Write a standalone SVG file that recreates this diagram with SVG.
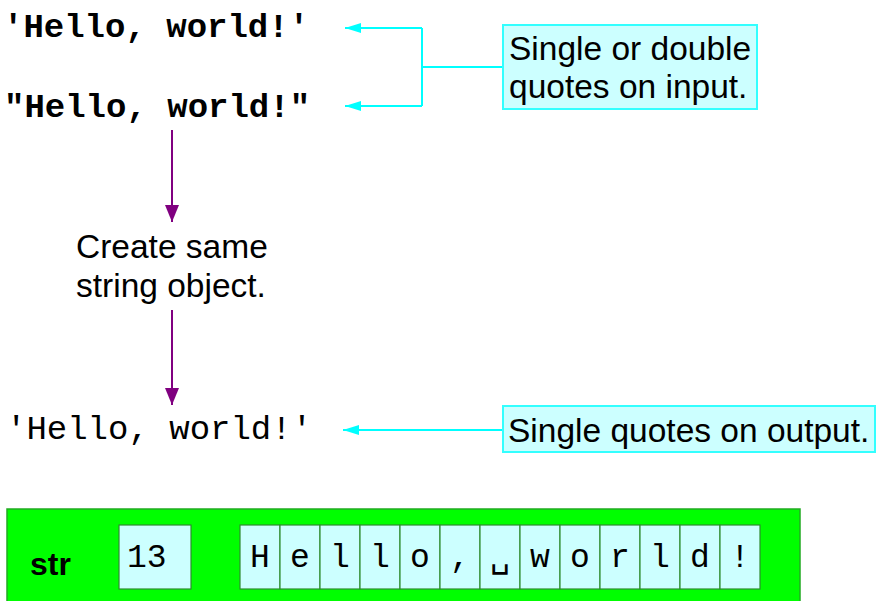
<svg xmlns="http://www.w3.org/2000/svg" width="877" height="601" viewBox="0 0 877 601">
<style>
.mono{font-family:"Liberation Mono","DejaVu Sans Mono",monospace;font-size:34px;fill:#000}
.monob{font-family:"Liberation Mono","DejaVu Sans Mono",monospace;font-size:34px;font-weight:bold;fill:#000}
.sans{font-family:"Liberation Sans",Arial,sans-serif;font-size:33.5px;fill:#000}
.note{fill:#ccffff;stroke:#33ffff;stroke-width:2}
.cell{fill:#ccffff;stroke:#2e8b2e;stroke-width:1.2}
.ctext{font-family:"Liberation Mono","DejaVu Sans Mono",monospace;font-size:33px;fill:#000;text-anchor:middle}
.cy{stroke:#00ffff;stroke-width:2;fill:none}
.pu{stroke:#800080;stroke-width:2;fill:none}
</style>
<defs>
<marker id="ac" markerUnits="userSpaceOnUse" markerWidth="18" markerHeight="12" refX="16" refY="6" orient="auto">
<path d="M0,1 L16,6 L0,11 Z" fill="#00ffff"/>
</marker>
<marker id="ap" markerUnits="userSpaceOnUse" markerWidth="18" markerHeight="16" refX="17" refY="8" orient="auto">
<path d="M0,1 L17,8 L0,15 Z" fill="#800080"/>
</marker>
</defs>
<g id="connectors">
<path class="cy" d="M503,67 H422 M422,28 V106 M422,28 H345" marker-end="url(#ac)"/>
<path class="cy" d="M422,106 H345" marker-end="url(#ac)"/>
<path class="cy" d="M503,430 H343" marker-end="url(#ac)"/>
<path class="pu" d="M172,130 V222" marker-end="url(#ap)"/>
<path class="pu" d="M172,310 V405" marker-end="url(#ap)"/>
</g>
<g id="input1"><text class="monob" x="3" y="37">'Hello, world!'</text></g>
<g id="input2"><text class="monob" x="4" y="117">"Hello, world!"</text></g>
<g id="note-input">
<rect class="note" x="503" y="25" width="254" height="84"/>
<text class="sans" x="509" y="60">Single or double</text>
<text class="sans" x="509" y="98">quotes on input.</text>
</g>
<g id="create">
<text class="sans" x="76" y="258">Create same</text>
<text class="sans" x="76" y="297">string object.</text>
</g>
<g id="output"><text class="mono" x="6" y="439">'Hello, world!'</text></g>
<g id="note-output">
<rect class="note" x="503" y="406" width="372" height="46"/>
<text class="sans" x="508" y="442">Single quotes on output.</text>
</g>
<g id="strobj">
<rect x="7" y="509" width="793" height="100" fill="#00ff00" stroke="#22aa22" stroke-width="1.5"/>
<text x="30" y="575" style="font-family:'Liberation Sans',Arial,sans-serif;font-size:32px;font-weight:bold;fill:#000">str</text>
<rect class="cell" x="119" y="525" width="72" height="64"/>
<text class="mono" x="127" y="567" style="font-size:33px">13</text>
<rect class="cell" x="240" y="525" width="40" height="64"/><text class="ctext" x="260" y="567">H</text>
<rect class="cell" x="280" y="525" width="40" height="64"/><text class="ctext" x="300" y="567">e</text>
<rect class="cell" x="320" y="525" width="40" height="64"/><text class="ctext" x="340" y="567">l</text>
<rect class="cell" x="360" y="525" width="40" height="64"/><text class="ctext" x="380" y="567">l</text>
<rect class="cell" x="400" y="525" width="40" height="64"/><text class="ctext" x="420" y="567">o</text>
<rect class="cell" x="440" y="525" width="40" height="64"/><text class="ctext" x="460" y="567">,</text>
<rect class="cell" x="480" y="525" width="40" height="64"/><text class="ctext" x="500" y="567">␣</text>
<rect class="cell" x="520" y="525" width="40" height="64"/><text class="ctext" x="540" y="567">w</text>
<rect class="cell" x="560" y="525" width="40" height="64"/><text class="ctext" x="580" y="567">o</text>
<rect class="cell" x="600" y="525" width="40" height="64"/><text class="ctext" x="620" y="567">r</text>
<rect class="cell" x="640" y="525" width="40" height="64"/><text class="ctext" x="660" y="567">l</text>
<rect class="cell" x="680" y="525" width="40" height="64"/><text class="ctext" x="700" y="567">d</text>
<rect class="cell" x="720" y="525" width="40" height="64"/><text class="ctext" x="740" y="567">!</text>
</g>
</svg>
